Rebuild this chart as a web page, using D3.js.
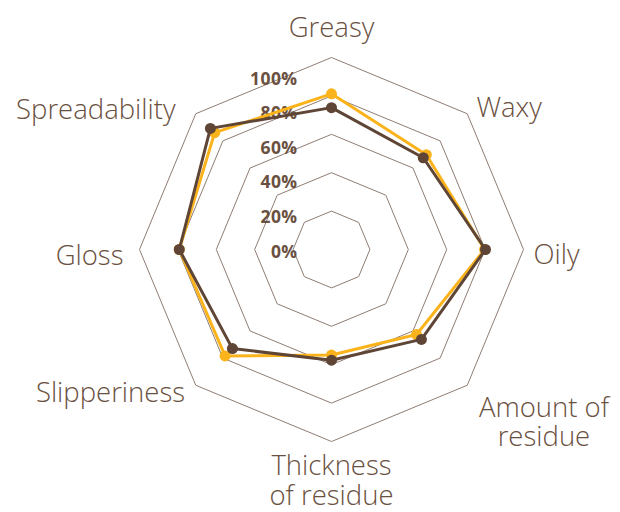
<!DOCTYPE html>
<html>
<head>
<meta charset="utf-8">
<script src="https://cdn.jsdelivr.net/npm/d3@7"></script>
<style>
  body { margin: 0; background: #fff; }
  text { font-family: "Open Sans", Lato, sans-serif; }
</style>
</head>
<body>
<div id="chart"></div>
<script>
// attributes around the radar (clockwise from top)
const attributes = ["Greasy", "Waxy", "Oily", "Amount of\nresidue", "Thickness\nof residue", "Slipperiness", "Gloss", "Spreadability"];

// percent scores
const seriesYellow = [90, 77.5, 88.5, 69.5, 61, 87, 88, 95.5];
const seriesBrown = [82, 75, 89, 73.5, 64, 81, 88, 99];

const tickValues = [0, 20, 40, 60, 80, 100];
const ringCount = 5;

const width = 620, height = 512;
const cx = 331.5, cy = 249.5;

const svg = d3.select("#chart").append("svg")
  .attr("width", width)
  .attr("height", height);

const g = svg.append("g").attr("transform", `translate(${cx},${cy})`);

// scales
const angle = d3.scalePoint()
  .domain(attributes)
  .range([0, 2 * Math.PI * (attributes.length - 1) / attributes.length]);
const rValue = d3.scaleLinear().domain([0, 100]).range([0, 173]);
const rRing = d3.scaleLinear().domain([0, ringCount]).range([0, 192]);

const pt = (a, r) => [r * Math.sin(a), -r * Math.cos(a)];

// grid octagons
const ringLine = d3.lineRadial().curve(d3.curveLinearClosed);
g.selectAll(".ring")
  .data(d3.range(1, ringCount + 1))
  .enter().append("path")
  .attr("class", "ring")
  .attr("d", i => ringLine(attributes.map(a => [angle(a), rRing(i)])))
  .attr("fill", "none")
  .attr("stroke", "#8f7d72")
  .attr("stroke-width", 1);

// tick labels
g.selectAll(".tick-label")
  .data(tickValues)
  .enter().append("text")
  .attr("class", "tick-label")
  .attr("x", -34)
  .attr("y", d => -rValue(d) + 8)
  .attr("text-anchor", "end")
  .attr("font-size", 17.5)
  .attr("font-weight", 700)
  .attr("letter-spacing", 0.4)
  .attr("fill", "#6a5040")
  .text(d => d + "%");

// series
const areaLine = d3.lineRadial().curve(d3.curveLinearClosed);
const series = [
  { values: seriesYellow, color: "#fbb31b" },
  { values: seriesBrown, color: "#5e4535" }
];

series.forEach(s => {
  const pts = attributes.map((a, i) => [angle(a), rValue(s.values[i])]);
  g.append("path")
    .attr("d", areaLine(pts))
    .attr("fill", "none")
    .attr("stroke", s.color)
    .attr("stroke-width", 3)
    .attr("stroke-linejoin", "round");
  g.selectAll(null)
    .data(pts)
    .enter().append("circle")
    .attr("cx", d => pt(d[0], d[1])[0])
    .attr("cy", d => pt(d[0], d[1])[1])
    .attr("r", 5.5)
    .attr("fill", s.color);
});

// axis labels: anchor point on each axis, then alignment and baseline nudges
const labelR = 205;
const labelLayout = [
  { anchor: "middle", dx: 0, dy: -8, lh: 0 },     // Greasy
  { anchor: "start", dx: 0, dy: 12, lh: 0 },      // Waxy
  { anchor: "start", dx: -3, dy: 14, lh: 0 },     // Oily
  { anchor: "middle", dx: 67.5, dy: 23, lh: 29 }, // Amount of residue
  { anchor: "middle", dx: 0, dy: 20.5, lh: 30 },  // Thickness of residue
  { anchor: "end", dx: -1.5, dy: 7.5, lh: 0 },    // Slipperiness
  { anchor: "end", dx: -3, dy: 15, lh: 0 },       // Gloss
  { anchor: "end", dx: -11, dy: 14, lh: 0 }       // Spreadability
];

attributes.forEach((a, i) => {
  const [x, y] = pt(angle(a), labelR);
  const lay = labelLayout[i];
  const t = g.append("text")
    .attr("text-anchor", lay.anchor)
    .attr("font-size", 27.5)
    .attr("font-weight", 300)
    .attr("fill", "#6a5040");
  a.split("\n").forEach((ln, j) => {
    t.append("tspan")
      .attr("x", x + lay.dx)
      .attr("y", y + lay.dy + j * lay.lh)
      .text(ln);
  });
});
</script>
</body>
</html>
